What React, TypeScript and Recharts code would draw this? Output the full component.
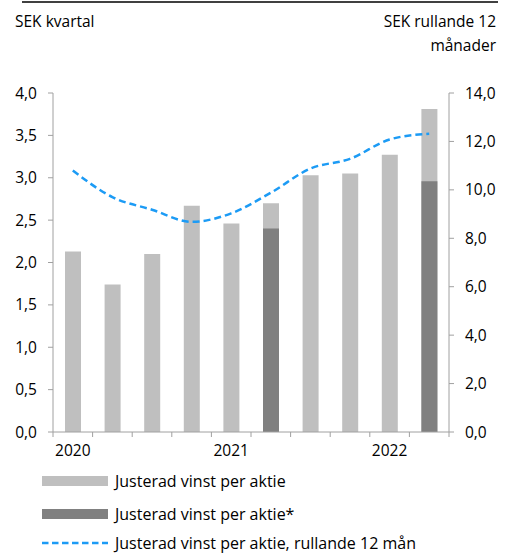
import React from "react";
import { ComposedChart, Bar, Line, XAxis, YAxis } from "recharts";

const kvartal = ["2020 K1", "2020 K2", "2020 K3", "2020 K4", "2021 K1", "2021 K2", "2021 K3", "2021 K4", "2022 K1", "2022 K2"];
const vinstPerAktie = [2.13, 1.74, 2.1, 2.67, 2.46, 2.7, 3.03, 3.05, 3.27, 3.81];
const vinstPerAktieStjarna = [null, null, null, null, null, 2.4, null, null, null, 2.96];
const rullande12 = [10.8, 9.7, 9.18, 8.68, 9.03, 9.88, 10.88, 11.28, 12.08, 12.32];

const vansterTicks = [0, 0.5, 1, 1.5, 2, 2.5, 3, 3.5, 4];
const hogerTicks = [0, 2, 4, 6, 8, 10, 12, 14];

const data = kvartal.map((k, i) => ({
  kvartal: k,
  vinst: vinstPerAktie[i],
  vinstStjarna: vinstPerAktieStjarna[i],
  rullande: rullande12[i],
}));

const FONT = "'Open Sans', 'Noto Sans', sans-serif";
const AXIS_COLOR = "#A0A0A0";
const LJUS = "#BFBFBF";
const MORK = "#808080";
const BLA = "#1C9BF5";

const komma = (v: number) => v.toFixed(1).replace(".", ",");

// tick som ritar streck på kategorigränserna och år vid första kvartalet
const XTick = (props: any) => {
  const { x, y, payload, index } = props;
  const half = 19.8;
  const label: string = payload.value;
  const ar = label.endsWith("K1") ? label.slice(0, 4) : "";
  return (
    <g>
      <line x1={x - half} y1={y - 8} x2={x - half} y2={y - 3} stroke={AXIS_COLOR} />
      {index === kvartal.length - 1 && (
        <line x1={x + half} y1={y - 8} x2={x + half} y2={y - 3} stroke={AXIS_COLOR} />
      )}
      {ar && (
        <text x={x} y={y + 16} textAnchor='middle' fontSize={15.5} fill='#000' fontFamily={FONT}>
          {ar}
        </text>
      )}
    </g>
  );
};

const legendItems = [
  { label: "Justerad vinst per aktie", typ: "bar", color: LJUS },
  { label: "Justerad vinst per aktie*", typ: "bar", color: MORK },
  { label: "Justerad vinst per aktie, rullande 12 mån", typ: "line", color: BLA },
];

export default function App() {
  return (
    <div style={{ position: "absolute", left: 0, top: 0, width: 512, height: 554, background: "#fff", fontFamily: FONT, overflow: "hidden" }}>
      <div style={{ position: "absolute", left: 22, top: 1, width: 476, height: 1.5, background: "#404040" }} />
      <div style={{ position: "absolute", left: 15, top: 9, fontSize: 15.5, lineHeight: "24px", color: "#000" }}>SEK kvartal</div>
      <div style={{ position: "absolute", right: 16, top: 9, fontSize: 15.5, color: "#000", textAlign: "right", lineHeight: "24px" }}>
        SEK rullande 12
        <br />
        månader
      </div>

      <div style={{ position: "absolute", left: 0, top: 0 }}>
        <ComposedChart
          width={512}
          height={470}
          data={data}
          margin={{ top: 93, right: 0, left: 0, bottom: 8 }}
          barSize={16}
          barGap={-16}>
          <XAxis
            dataKey='kvartal'
            xAxisId='x'
            stroke={AXIS_COLOR}
            tickLine={false}
            height={30}
            interval={0}
            tick={<XTick />}
          />
          <YAxis
            yAxisId='v'
            orientation='left'
            width={53}
            domain={[0, 4]}
            ticks={vansterTicks}
            tickFormatter={komma}
            stroke={AXIS_COLOR}
            tickSize={5}
            tickMargin={11}
            tick={{ fill: "#000", fontSize: 15.5, fontFamily: FONT }}
          />
          <YAxis
            yAxisId='h'
            orientation='right'
            width={63}
            domain={[0, 14]}
            ticks={hogerTicks}
            tickFormatter={komma}
            stroke={AXIS_COLOR}
            tickSize={5}
            tickMargin={11}
            tick={{ fill: "#000", fontSize: 15.5, fontFamily: FONT }}
          />
          <Bar dataKey='vinst' xAxisId='x' yAxisId='v' fill={LJUS} isAnimationActive={false} />
          <Bar dataKey='vinstStjarna' xAxisId='x' yAxisId='v' fill={MORK} isAnimationActive={false} />
          <Line
            dataKey='rullande'
            xAxisId='x'
            yAxisId='h'
            type='monotone'
            stroke={BLA}
            strokeWidth={2.5}
            strokeDasharray='7 4'
            dot={false}
            isAnimationActive={false}
          />
        </ComposedChart>
      </div>

      <div style={{ position: "absolute", left: 42, top: 470 }}>
        {legendItems.map((item, i) => (
          <div key={item.label} style={{ position: "absolute", left: 0, top: [0, 33, 62][i], display: "flex", alignItems: "center", height: 22, lineHeight: "20px", whiteSpace: "nowrap" }}>
            <svg width={66} height={12} style={{ marginRight: 7 }}>
              {item.typ === "bar" ? (
                <rect x={0} y={1} width={66} height={10} fill={item.color} />
              ) : (
                <line x1={0} y1={6} x2={66} y2={6} stroke={item.color} strokeWidth={2.5} strokeDasharray='6.5 3.5' />
              )}
            </svg>
            <span style={{ fontSize: 16, color: "#000" }}>{item.label}</span>
          </div>
        ))}
      </div>
    </div>
  );
}
